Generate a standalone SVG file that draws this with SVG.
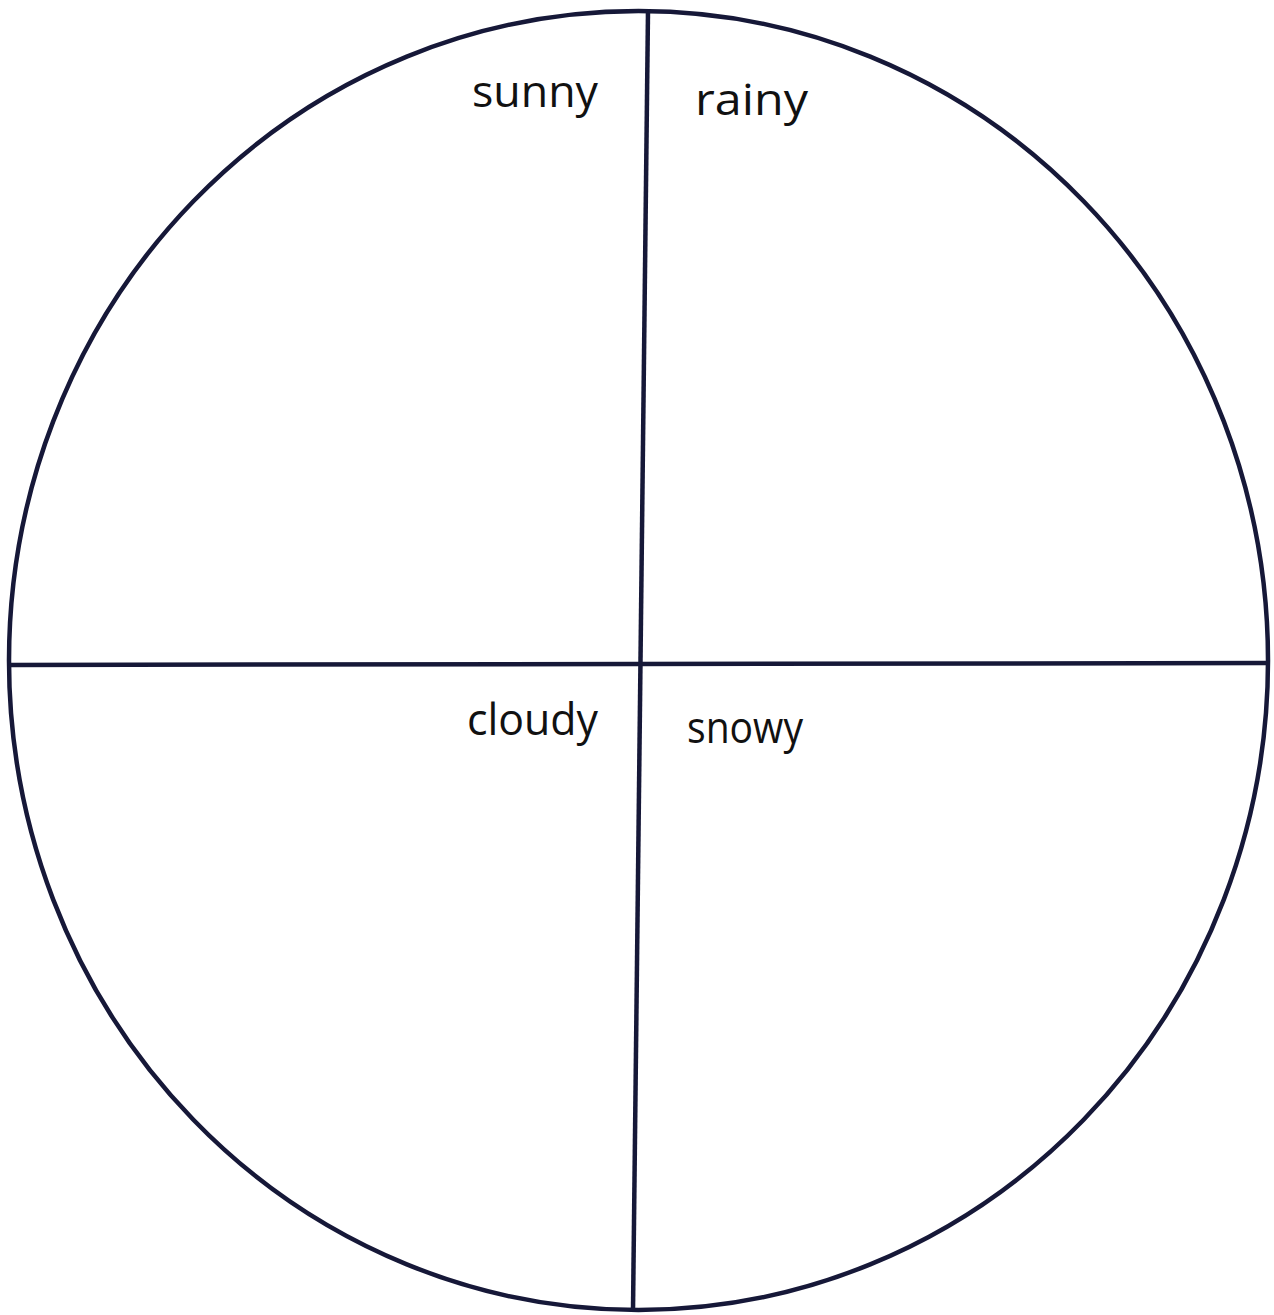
<svg xmlns="http://www.w3.org/2000/svg" width="1274" height="1315" viewBox="0 0 1274 1315">
<style>
.line{stroke:#161838;stroke-width:4.5;fill:none;stroke-linecap:butt}
.lbl{font-family:"Open Sans","Noto Sans",sans-serif;font-size:44px;fill:#111}
</style>
<rect width="1274" height="1315" fill="#fff"/>
<g id="circle">
<ellipse class="line" cx="638.5" cy="660.5" rx="629.5" ry="649.5"/>
</g>
<g id="connectors">
<line class="line" x1="648" y1="11" x2="633" y2="1310"/>
<line class="line" x1="9" y1="665" x2="1268" y2="663"/>
</g>
<g id="sunny"><text class="lbl" x="472" y="107" textLength="126" lengthAdjust="spacingAndGlyphs">sunny</text></g>
<g id="rainy"><text class="lbl" x="695" y="115" textLength="113" lengthAdjust="spacingAndGlyphs">rainy</text></g>
<g id="cloudy"><text class="lbl" x="467" y="735" textLength="131" lengthAdjust="spacingAndGlyphs">cloudy</text></g>
<g id="snowy"><text class="lbl" x="687" y="743" textLength="116" lengthAdjust="spacingAndGlyphs">snowy</text></g>
</svg>
